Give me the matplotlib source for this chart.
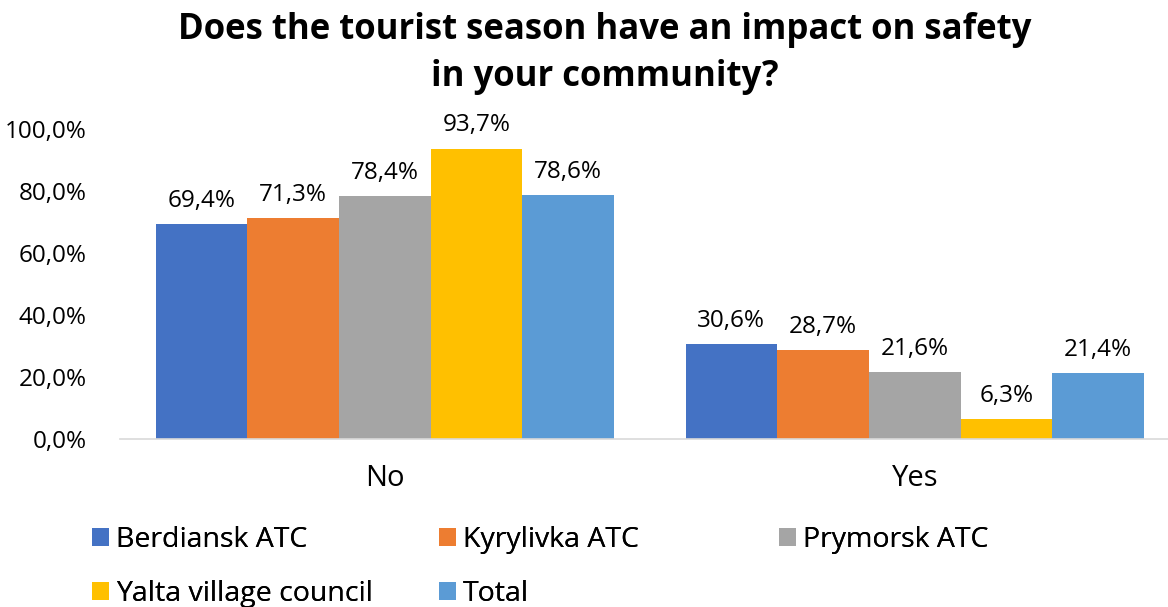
import matplotlib.pyplot as plt
import numpy as np

plt.rcParams['font.family'] = ['Open Sans', 'DejaVu Sans']

categories = ['No', 'Yes']
series = ['Berdiansk ATC', 'Kyrylivka ATC', 'Prymorsk ATC', 'Yalta village council', 'Total']
values = [
    [69.4, 30.6],
    [71.3, 28.7],
    [78.4, 21.6],
    [93.7, 6.3],
    [78.6, 21.4],
]
colors = ['#4472C4', '#ED7D31', '#A5A5A5', '#FFC000', '#5B9BD5']
yticks = [0, 20, 40, 60, 80, 100]

W, H = 1168, 607
fig = plt.figure(figsize=(W / 100, H / 100), dpi=100)
ax = fig.add_axes([120 / W, 1 - 439 / H, (1168 - 120) / W, (439 - 129) / H])

x = np.arange(len(categories))
bw = 0.173
handles = []
for i, (name, vals, c) in enumerate(zip(series, values, colors)):
    pos = x + (i - 2) * bw
    b = ax.bar(pos, vals, bw, color=c, label=name)
    ax.bar_label(b, labels=[f'{v:.1f}%'.replace('.', ',') for v in vals],
                 padding=8, fontsize=17.5, color='#000000')
    handles.append(b)

ax.set_xlim(-0.5, 1.478)
ax.set_ylim(0, 100)
ax.set_yticks(yticks)
ax.set_yticklabels([f'{v:.1f}%'.replace('.', ',') for v in yticks], fontsize=17.5)
ax.set_xticks(x)
ax.set_xticklabels(categories, fontsize=21)
ax.tick_params(axis='both', length=0)
ax.tick_params(axis='y', pad=24)
ax.tick_params(axis='x', pad=18)
for s in ['top', 'right', 'left']:
    ax.spines[s].set_visible(False)
ax.spines['bottom'].set_color('#D9D9D9')
ax.spines['bottom'].set_linewidth(1.2)

fig.suptitle('Does the tourist season have an impact on safety\nin your community?',
             x=605 / W, y=1 - 12 / H, fontsize=25, fontweight='bold', linespacing=1.42)

# legend, laid out in three columns like the original
cols = [([0, 3], 92), ([1, 4], 439), ([2], 779)]
for idx, xpx in cols:
    leg = fig.legend([handles[i] for i in idx], [series[i] for i in idx],
                     loc='upper left', bbox_to_anchor=(xpx / W, 1 - 526 / H),
                     frameon=False, fontsize=20.5, handlelength=0.6, handleheight=0.6,
                     handletextpad=0.25, labelspacing=0.9, borderpad=0, borderaxespad=0)
    fig.add_artist(leg)

fig.savefig('out.png', dpi=100)
